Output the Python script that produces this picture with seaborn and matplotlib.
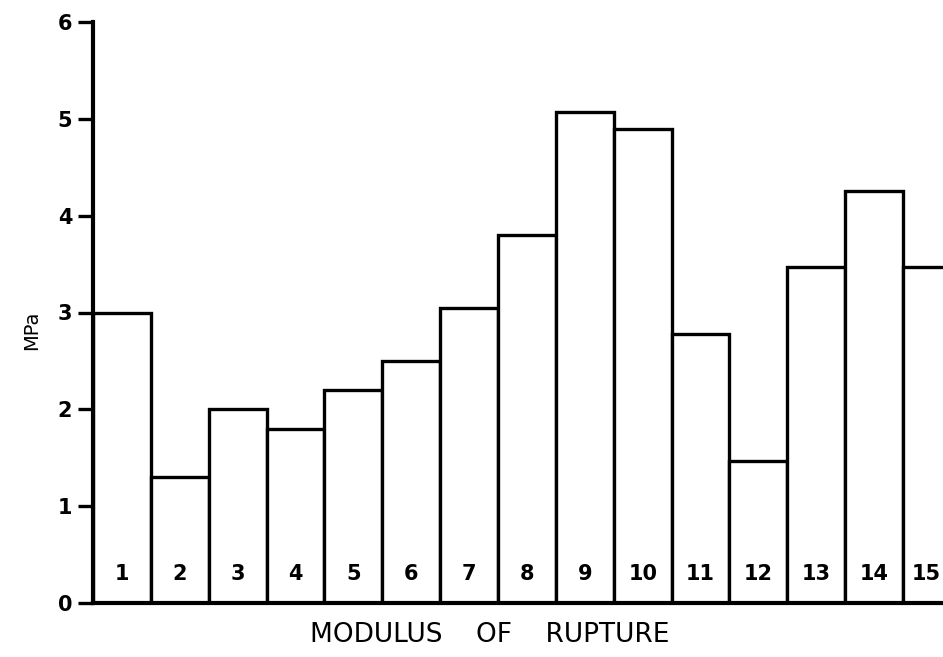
import pandas as pd
import seaborn as sns
import matplotlib.pyplot as plt

# valeurs
specimens = [str(i) for i in range(1, 16)]
mpa = [3.0, 1.3, 2.0, 1.8, 2.2, 2.5, 3.05, 3.8, 5.07, 4.9, 2.78, 1.47, 3.47, 4.25, 3.47]
y_ticks = [0, 1, 2, 3, 4, 5, 6]

df = pd.DataFrame({"specimen": specimens, "mpa": mpa})

sns.set_style("ticks")
plt.rcParams["font.family"] = ["DejaVu Sans"]
plt.rcParams["text.color"] = "black"
plt.rcParams["axes.labelcolor"] = "black"
plt.rcParams["ytick.color"] = "black"
plt.rcParams["axes.edgecolor"] = "black"

fig = plt.figure(figsize=(9.43, 6.57), dpi=100)
ax = fig.add_axes([93 / 943, 54 / 657, 1 - 93 / 943, 581 / 657])

sns.barplot(data=df, x="specimen", y="mpa", color="white", edgecolor="black",
            linewidth=2.4, width=1.0, saturation=1, ax=ax)

# numéros dans le bas des barres (le dernier est tassé contre le bord)
for i, lab in enumerate(specimens):
    xpos = i - 0.1 if i == len(specimens) - 1 else i
    ax.text(xpos, 0.3, lab, ha="center", va="center", fontsize=15,
            fontweight="semibold", color="black")

ax.set_xlim(-0.5, 14.19)
ax.set_ylim(0, 6)
ax.set_yticks(y_ticks)
ax.set_xticks([])
ax.tick_params(axis="y", length=11, width=2.4, labelsize=15, pad=4)
for t in ax.get_yticklabels():
    t.set_fontweight("semibold")
sns.despine(ax=ax)
ax.spines["left"].set_linewidth(3)
ax.spines["bottom"].set_linewidth(3)
ax.set_ylabel("MPa", fontsize=14)
ax.yaxis.set_label_coords(-52 / 850, (603 - 330) / 581)
ax.set_xlabel("MODULUS    OF    RUPTURE", fontsize=19)
ax.xaxis.set_label_coords((490 - 93) / 850, -32 / 581)
ax.xaxis.label.set_va("center")

fig.savefig("out.png", dpi=100)
